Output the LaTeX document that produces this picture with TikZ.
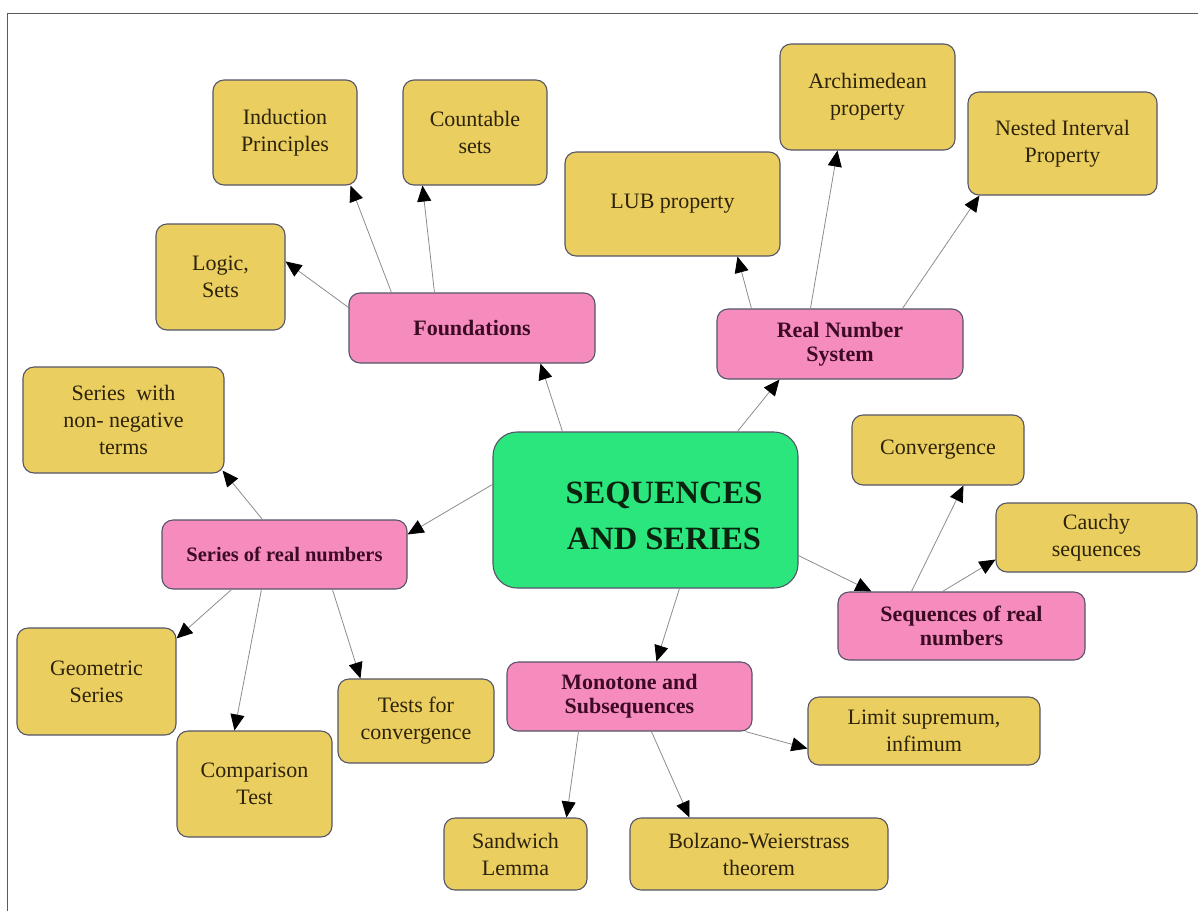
\documentclass[tikz,border=0pt]{standalone}
\usepackage{fontspec}
\setmainfont{Liberation Serif}
\usetikzlibrary{arrows.meta,calc}
\definecolor{boxY}{RGB}{235,206,96}
\definecolor{boxP}{RGB}{246,140,190}
\definecolor{boxG}{RGB}{42,230,125}
\definecolor{edgeC}{RGB}{85,85,105}
\definecolor{lineC}{RGB}{140,140,140}
\definecolor{txtY}{RGB}{45,35,10}
\definecolor{txtP}{RGB}{60,10,35}
\definecolor{txtG}{RGB}{10,35,15}
\definecolor{frameC}{RGB}{90,90,90}
\tikzset{
  sz/.style 2 args={minimum width=#1pt, minimum height=#2pt},
  ybox/.style={draw=edgeC, line width=1.1pt, fill=boxY, rounded corners=11pt, inner sep=0pt,
    align=center, font=\fontsize{22}{27}\selectfont, text=txtY},
  pbox/.style={draw=edgeC, line width=1.1pt, fill=boxP, rounded corners=11pt, inner sep=0pt,
    align=center, font=\fontsize{22}{24}\selectfont\bfseries, text=txtP},
  gbox/.style={draw=edgeC, line width=1.1pt, fill=boxG, rounded corners=24pt, inner sep=0pt},
  gtext/.style={align=center, font=\fontsize{32.5}{46}\selectfont\bfseries, text=txtG, inner sep=0pt},
  conn/.style={draw=lineC, line width=0.8pt, -{Triangle[length=16pt,width=14pt,color=black]}},
}
\begin{document}
\begin{tikzpicture}[x=1pt,y=-1pt]
\useasboundingbox (0,0) rectangle (1198,911);
\draw[frameC, line width=1pt] (7,911) -- (7,13) -- (1198,13);

\node[ybox,sz={144}{105}] (induct) at (285,132.5) {Induction\\Principles};
\node[ybox,sz={144}{105}] (count) at (475,132.5) {Countable\\sets};
\node[ybox,sz={129}{106}] (logic) at (220.5,277) {Logic,\\Sets};
\node[pbox,sz={246}{70}] (found) at (472,328) {Foundations};
\node[ybox,sz={215}{104}] (lub) at (672.5,204) {LUB property};
\node[ybox,sz={175}{106}] (arch) at (867.5,97) {Archimedean\\property};
\node[ybox,sz={189}{103}] (nested) at (1062.5,143.5) {Nested Interval\\Property};
\node[pbox,sz={246}{70}] (rns) at (840,344) {Real Number\\System};
\node[ybox,sz={201}{106}] (swn) at (123.5,420) {Series\ \ with\\non- negative\\terms};
\node[gbox,sz={305}{156}] (center) at (645.5,510) {};
\node[gtext] (ctext) at (664,516) {SEQUENCES\\AND SERIES};
\node[ybox,sz={172}{70}] (conv) at (938,450) {Convergence};
\node[ybox,sz={201}{69}] (cauchy) at (1096.5,537.5) {Cauchy\\sequences};
\node[pbox,sz={245}{69},font=\fontsize{20.5}{24}\selectfont\bfseries] (srn) at (284.5,554.5) {Series of real numbers};
\node[pbox,sz={247}{68}] (seqrn) at (961.5,626) {Sequences of real\\numbers};
\node[ybox,sz={159}{107}] (geom) at (96.5,681.5) {Geometric\\Series};
\node[ybox,sz={155}{106}] (comp) at (254.5,784) {Comparison\\Test};
\node[ybox,sz={156}{84}] (tests) at (416,721) {Tests for\\convergence};
\node[pbox,sz={245}{69}] (mono) at (629.5,696.5) {Monotone and\\Subsequences};
\node[ybox,sz={232}{68}] (limit) at (924,731) {Limit supremum,\\infimum};
\node[ybox,sz={143}{72}] (sand) at (515.5,854) {Sandwich\\Lemma};
\node[ybox,sz={258}{72}] (bolz) at (759,854) {Bolzano-Weierstrass\\theorem};

\draw[conn] ($(found.north west)+(0,15)$) -- ($(logic.north east)+(0,38)$);
\draw[conn] ($(found.north west)+(43,0)$) -- ($(induct.south east)+(-7,0)$);
\draw[conn] ($(found.north west)+(86,0)$) -- ($(count.south west)+(20,0)$);
\draw[conn] ($(center.north west)+(70,0)$) -- ($(found.south west)+(192,0)$);
\draw[conn] ($(center.north west)+(245,0)$) -- ($(rns.south west)+(63,0)$);
\draw[conn] ($(rns.north west)+(35,0)$) -- ($(lub.south west)+(173,0)$);
\draw[conn] ($(rns.north west)+(94,0)$) -- ($(arch.south west)+(58,0)$);
\draw[conn] ($(rns.north west)+(186,0)$) -- ($(nested.south west)+(12,0)$);
\draw[conn] ($(center.north west)+(0,53)$) -- ($(srn.north east)+(0,15)$);
\draw[conn] ($(srn.north west)+(101,0)$) -- ($(swn.south east)+(-2,-3)$);
\draw[conn] ($(srn.south west)+(70,0)$) -- ($(geom.north east)+(0,11)$);
\draw[conn] ($(srn.south west)+(100,0)$) -- ($(comp.north west)+(58,0)$);
\draw[conn] ($(srn.south west)+(171,0)$) -- ($(tests.north west)+(23,0)$);
\draw[conn] ($(center.south east)+(0,-33)$) -- ($(seqrn.north west)+(34,0)$);
\draw[conn] ($(seqrn.north west)+(74,0)$) -- ($(conv.south west)+(112,0)$);
\draw[conn] ($(seqrn.north west)+(105,0)$) -- ($(cauchy.south west)+(0,-13)$);
\draw[conn] ($(center.south west)+(187,0)$) -- ($(mono.north west)+(150,0)$);
\draw[conn] ($(mono.south east)+(-7,0)$) -- ($(limit.south west)+(0,-17)$);
\draw[conn] ($(mono.south west)+(72,0)$) -- ($(sand.north west)+(123,0)$);
\draw[conn] ($(mono.south west)+(145,0)$) -- ($(bolz.north west)+(60,0)$);
\end{tikzpicture}
\end{document}
